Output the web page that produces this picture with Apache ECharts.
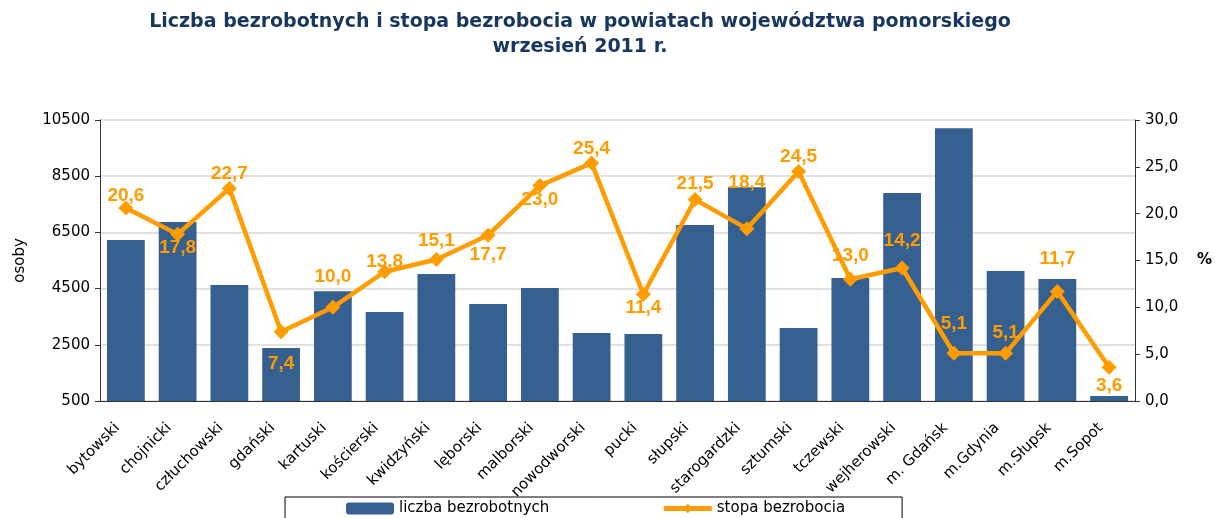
<!DOCTYPE html>
<html><head><meta charset="utf-8">
<script src="https://cdn.jsdelivr.net/npm/echarts@6/dist/echarts.min.js"></script>
<style>html,body{margin:0;padding:0;background:#fff}#c{width:1215px;height:518px}</style>
</head><body><div id="c"></div>
<script>
const categories = ['bytowski','chojnicki','człuchowski','gdański','kartuski','kościerski','kwidzyński','lęborski','malborski','nowodworski','pucki','słupski','starogardzki','sztumski','tczewski','wejherowski','m. Gdańsk','m.Gdynia','m.Słupsk','m.Sopot'];
const unemployed = [6230,6870,4630,2390,4410,3670,5020,3950,4520,2920,2880,6760,8110,3100,4880,7900,10210,5130,4840,680];
const rate = [20.6,17.8,22.7,7.4,10.0,13.8,15.1,17.7,23.0,25.4,11.4,21.5,18.4,24.5,13.0,14.2,5.1,5.1,11.7,3.6];
const leftTicks = [500,2500,4500,6500,8500,10500];
const rightTicks = [0,5,10,15,20,25,30];

// label placement (style only)
const labelPos = ['top','bottom','top','bottom','top','top','top','bottom','bottom','top','bottom','top','top','top','top','top','top','top','top','bottom'];
const labelDist = [-5,-4,-2,15,14,-7,2,3,-3,-3,-3,-1,29,-2,6,10,12,3,16,1];

const font = 'DejaVu Sans, Verdana, sans-serif';
const chart = echarts.init(document.getElementById('c'));
chart.setOption({
  animation:false,
  title:{
    text:'Liczba bezrobotnych i stopa bezrobocia w powiatach województwa pomorskiego\nwrzesień 2011 r.',
    left:575, top:5, textAlign:'center',
    textStyle:{fontFamily:font,fontSize:19,fontWeight:'bold',color:'#17375E',lineHeight:25}
  },
  legend:{
    left:285, top:497,
    padding:[4,57,10,61], itemGap:112,
    borderColor:'#000', borderWidth:1,
    itemWidth:48, itemHeight:12,
    lineStyle:{width:5},
    textStyle:{fontFamily:font,fontSize:15,color:'#000'},
    data:['liczba bezrobotnych','stopa bezrobocia']
  },
  grid:{left:100,right:73,top:120,bottom:117},
  xAxis:{
    type:'category', data:categories,
    axisLine:{lineStyle:{color:'#333'}},
    axisTick:{lineStyle:{color:'#333'}},
    axisLabel:{rotate:45, fontFamily:font,fontSize:15,color:'#000',interval:0,margin:16,padding:[0,12,0,0]}
  },
  yAxis:[{
    type:'value', min:leftTicks[0], max:leftTicks[leftTicks.length-1], interval:2000,
    name:'osoby', nameLocation:'middle', nameGap:72, nameRotate:90,
    nameTextStyle:{fontFamily:font,fontSize:15,color:'#000'},
    axisLine:{show:true,lineStyle:{color:'#333'}},
    axisTick:{show:true,lineStyle:{color:'#333'}},
    axisLabel:{fontFamily:font,fontSize:15,color:'#000',margin:10,formatter:v=>String(v)},
    splitLine:{lineStyle:{color:'#d9d9d9',width:1.5}}
  },{
    type:'value', min:rightTicks[0], max:rightTicks[rightTicks.length-1], interval:5,
    name:'%', nameLocation:'middle', nameGap:62, nameRotate:0,
    nameTextStyle:{fontFamily:font,fontSize:15,color:'#000',fontWeight:'bold'},
    axisLine:{show:true,lineStyle:{color:'#333'}},
    axisTick:{show:true,lineStyle:{color:'#333'}},
    axisLabel:{fontFamily:font,fontSize:15,color:'#000',margin:10,
      formatter:v=>v.toFixed(1).replace('.',',')},
    splitLine:{show:false}
  }],
  series:[{
    name:'liczba bezrobotnych', type:'bar', data:unemployed,
    barCategoryGap:'27%',
    itemStyle:{color:'#36608F'}
  },{
    name:'stopa bezrobocia', type:'line', yAxisIndex:1,
    data:rate.map((v,i)=>({value:v,label:{position:labelPos[i],distance:labelDist[i]}})),
    symbol:'diamond', symbolSize:15,
    lineStyle:{color:'#FF9C00',width:4.5},
    itemStyle:{color:'#FF9C00'},
    label:{show:true,fontFamily:'Liberation Sans, Arial, sans-serif',fontSize:19,fontWeight:'bold',color:'#FF9C00',
      formatter:p=>p.value.toFixed(1).replace('.',',')}
  }]
});
</script></body></html>
